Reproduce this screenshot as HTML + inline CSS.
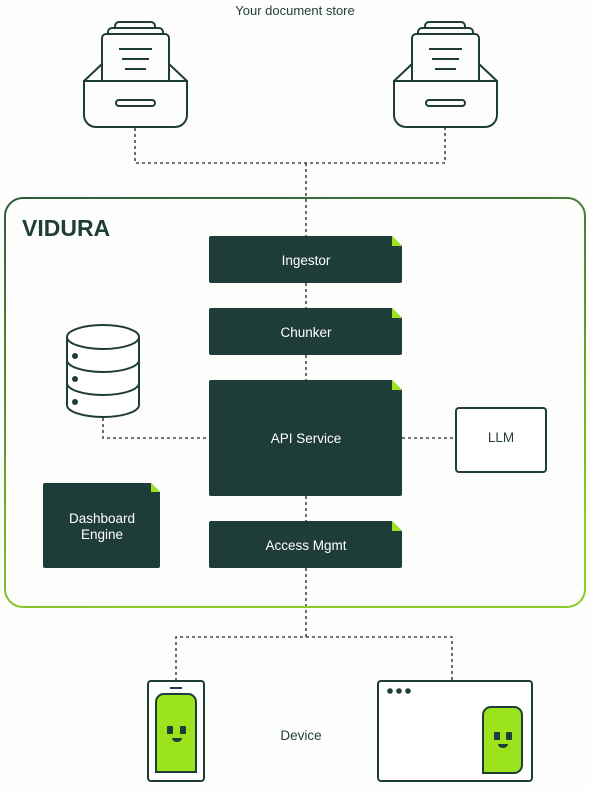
<!DOCTYPE html>
<html><head><meta charset="utf-8"><style>
html,body{margin:0;padding:0;background:#fdfdfc;}
svg{display:block;}
text{font-family:"Liberation Sans",sans-serif;}
</style></head><body>
<svg width="590" height="788" viewBox="0 0 590 788" xmlns="http://www.w3.org/2000/svg">
<defs>
<linearGradient id="bg" x1="0" y1="0" x2="0.3" y2="1">
<stop offset="0" stop-color="#2f5a3a"/><stop offset="1" stop-color="#8ccc2a"/>
</linearGradient>
<g id="drawer" fill="none" stroke="#1f3d38" stroke-width="2">
<rect x="115" y="22" width="40" height="12" rx="4" fill="#fdfdfc"/>
<rect x="108" y="28" width="55" height="12" rx="4" fill="#fdfdfc"/>
<path d="M102 82 V38 a4 4 0 0 1 4 -4 H165 a4 4 0 0 1 4 4 V82" fill="#fdfdfc"/>
<line x1="119" y1="49" x2="152" y2="49"/>
<line x1="122" y1="59" x2="149" y2="59"/>
<line x1="125" y1="69" x2="146" y2="69"/>
<path d="M84 81 L102 64 M169 64 L187 81"/>
<path d="M84 81 H187 V115 a12 12 0 0 1 -12 12 H96 a12 12 0 0 1 -12 -12 Z" fill="#fdfdfc"/>
<rect x="116" y="100" width="39" height="6" rx="3"/>
</g>
</defs>
<text x="295" y="15" text-anchor="middle" font-size="13" fill="#1f3d38">Your document store</text>
<use href="#drawer"/>
<use href="#drawer" x="310"/>
<g stroke="#3b4f4b" stroke-width="1.6" stroke-dasharray="3 3" fill="none">
<path d="M135 128 V163 H445 V128"/>
<path d="M306 163 V236"/>
<path d="M306 283 V308 M306 355 V380 M306 496 V521 M306 568 V637"/>
<path d="M103 418 V438 H209 M402 438 H456"/>
<path d="M176 681 V637 H452 V681"/>
</g>
<rect x="5" y="198" width="580" height="409" rx="18" fill="none" stroke="url(#bg)" stroke-width="2"/>
<text x="22" y="236" font-size="23" font-weight="bold" fill="#1f3d38">VIDURA</text>
<g fill="#1f3d38">
<path d="M211 236 H392 L402 246 V281 a2 2 0 0 1 -2 2 H211 a2 2 0 0 1 -2 -2 V238 a2 2 0 0 1 2 -2Z"/>
<path d="M211 308 H392 L402 318 V353 a2 2 0 0 1 -2 2 H211 a2 2 0 0 1 -2 -2 V310 a2 2 0 0 1 2 -2Z"/>
<path d="M211 380 H392 L402 390 V494 a2 2 0 0 1 -2 2 H211 a2 2 0 0 1 -2 -2 V382 a2 2 0 0 1 2 -2Z"/>
<path d="M211 521 H392 L402 531 V566 a2 2 0 0 1 -2 2 H211 a2 2 0 0 1 -2 -2 V523 a2 2 0 0 1 2 -2Z"/>
<path d="M45 483 H151 L160 492 V566 a2 2 0 0 1 -2 2 H45 a2 2 0 0 1 -2 -2 V485 a2 2 0 0 1 2 -2Z"/>
</g>
<g fill="#9be31c">
<path d="M392 236 L402 246 H392Z"/><path d="M392 308 L402 318 H392Z"/>
<path d="M392 380 L402 390 H392Z"/><path d="M392 521 L402 531 H392Z"/>
<path d="M151 483 L160 492 H151Z"/>
</g>
<g fill="#ffffff" font-size="13.5" text-anchor="middle">
<text x="306" y="265">Ingestor</text>
<text x="306" y="337">Chunker</text>
<text x="306" y="443">API Service</text>
<text x="306" y="550">Access Mgmt</text>
<text x="102" y="523">Dashboard</text>
<text x="102" y="539">Engine</text>
</g>
<rect x="456" y="408" width="90" height="64" rx="3" fill="#fff" stroke="#1f3d38" stroke-width="2"/>
<text x="501" y="442" text-anchor="middle" font-size="13.5" fill="#1f3d38">LLM</text>
<g fill="#fff" stroke="#1f3d38" stroke-width="2">
<path d="M67 337 V405 a36 12 0 0 0 72 0 V337"/>
<path d="M67 360 a36 12 0 0 0 72 0 M67 383 a36 12 0 0 0 72 0" fill="none"/>
<ellipse cx="103" cy="337" rx="36" ry="12"/>
</g>
<g fill="#1f3d38"><circle cx="75" cy="356" r="3"/><circle cx="75" cy="379" r="3"/><circle cx="75" cy="402" r="3"/></g>
<rect x="148" y="681" width="56" height="100" rx="3" fill="#fff" stroke="#1f3d38" stroke-width="2"/>
<line x1="170" y1="688" x2="182" y2="688" stroke="#1f3d38" stroke-width="2"/>
<path d="M156 772 V702 a8 8 0 0 1 8 -8 H188 a8 8 0 0 1 8 8 V772 Z" fill="#9be31c" stroke="#1f3d38" stroke-width="2"/>
<rect x="167" y="726" width="6" height="8" rx="1" fill="#1f3d38"/><rect x="180" y="726" width="6" height="8" rx="1" fill="#1f3d38"/>
<path d="M172 738 a5 4 0 0 0 10 0Z" fill="#1f3d38"/>
<rect x="378" y="681" width="154" height="100" rx="3" fill="#fff" stroke="#1f3d38" stroke-width="2"/>
<g fill="#1f3d38"><circle cx="390" cy="691" r="2.8"/><circle cx="399" cy="691" r="2.8"/><circle cx="408" cy="691" r="2.8"/></g>
<path d="M483 773 V715 a8 8 0 0 1 8 -8 H514 a8 8 0 0 1 8 8 V765 a8 8 0 0 1 -8 8Z" fill="#9be31c" stroke="#1f3d38" stroke-width="2"/>
<rect x="494" y="732" width="6" height="8" rx="1" fill="#1f3d38"/><rect x="506" y="732" width="6" height="8" rx="1" fill="#1f3d38"/>
<path d="M498 744 a5 4 0 0 0 10 0Z" fill="#1f3d38"/>
<text x="301" y="740" text-anchor="middle" font-size="13.5" fill="#1f3d38">Device</text>
</svg>
</body></html>
